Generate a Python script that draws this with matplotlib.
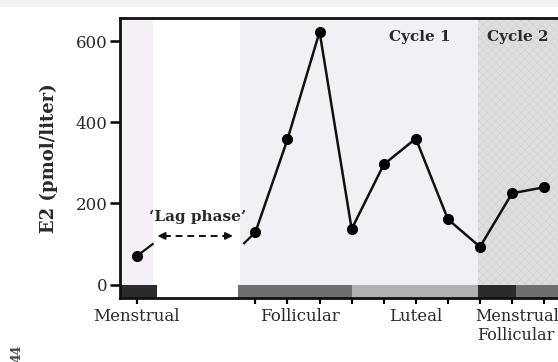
import matplotlib
matplotlib.use("Agg")
import matplotlib.pyplot as plt
import matplotlib.transforms as mtransforms
from matplotlib.patches import Rectangle

plt.rcParams['font.family'] = ['DejaVu Serif']
plt.rcParams['hatch.linewidth'] = 0.5

# Sampling position (days, with the lag gap) and serum E2 values
day = [0, 3.7, 4.7, 5.7, 6.7, 7.7, 8.7, 9.7, 10.7, 11.7, 12.7]
e2 = [70, 129, 358, 623, 137, 296, 360, 161, 93, 225, 240]

# Cycle phase bars along the bottom
phase_start = [-0.52, 3.15, 6.71, 10.64, 11.82]
phase_end = [0.64, 6.71, 10.64, 11.82, 14.5]
phase_color = ['#2b2a2e', '#6f6e73', '#b1b0b4', '#2b2a2e', '#6f6e73']

# Phase labels (x position, text)
phase_label_x = [0.0, 5.09, 8.68]
phase_label_text = ['Menstrual', 'Follicular', 'Luteal']

yticks = [0, 200, 400, 600]
ylim = (-33, 657)
xlim = (-0.52, 14.44)

text_col = '#2a2a2a'

fig = plt.figure(figsize=(5.58, 3.62), dpi=100)
# faint strip along the top edge
fig.patches.append(Rectangle((0, 1 - 7 / 362), 1, 7 / 362, transform=fig.transFigure,
                             facecolor='#f1f1f1', edgecolor='none', zorder=0))

ax = fig.add_axes([120 / 558, 64 / 362, 480 / 558, 280 / 362])
ax.set_xlim(*xlim)
ax.set_ylim(*ylim)

# background bands
ax.axvspan(xlim[0], 0.5, facecolor='#f5f0f6', edgecolor='none', zorder=0)
ax.axvspan(3.22, 10.64, facecolor='#f3f0f5', edgecolor='none', zorder=0)
ax.axvspan(10.64, xlim[1], facecolor='#dedddf', edgecolor='#d2d1d3',
           hatch='xxxx', linewidth=0, zorder=0)

# phase bars below zero
for s, e, c in zip(phase_start, phase_end, phase_color):
    ax.bar(s, 0 - ylim[0], bottom=ylim[0], width=e - s, align='edge',
           color=c, edgecolor='none', zorder=1)

# E2 trace
ax.plot(day[1:], e2[1:], color='#111111', lw=1.8, zorder=3)
ax.plot(day, e2, 'o', color='#000000', ms=7, zorder=4)

# short stubs bridging the lag gap
ax.plot([day[0], day[0] + 0.5], [e2[0], e2[0] + 30], color='#111111', lw=1.6, zorder=3)
ax.plot([day[1], day[1] - 0.35], [e2[1], e2[1] - 27], color='#111111', lw=1.6, zorder=3)

# dashed double arrow for the lag phase
ax.plot([0.85, 2.8], [120, 120], color='#111111', lw=1.4, ls=(0, (3.5, 2.5)), zorder=3)
ax.annotate('', xy=(0.65, 120), xytext=(0.95, 120),
            arrowprops=dict(arrowstyle='-|>,head_length=0.45,head_width=0.22',
                            color='#111111', lw=1.2, shrinkA=0, shrinkB=0))
ax.annotate('', xy=(3.0, 120), xytext=(2.7, 120),
            arrowprops=dict(arrowstyle='-|>,head_length=0.45,head_width=0.22',
                            color='#111111', lw=1.2, shrinkA=0, shrinkB=0))
ax.text(1.9, 166, '\u2018Lag phase\u2019', ha='center', va='center',
        fontsize=11, fontweight='bold', color=text_col, zorder=5)

ax.text(8.82, 610, 'Cycle 1', ha='center', va='center', fontsize=11,
        fontweight='bold', color=text_col)
ax.text(11.87, 610, 'Cycle 2', ha='center', va='center', fontsize=11,
        fontweight='bold', color=text_col)

# axes styling
for side in ('left', 'top', 'bottom'):
    ax.spines[side].set_linewidth(2)
    ax.spines[side].set_color('#111111')
ax.spines['right'].set_visible(False)

ax.set_yticks(yticks)
ax.set_yticklabels([str(v) for v in yticks], fontsize=12, color=text_col)
ax.tick_params(axis='y', direction='out', length=7, width=1.8, pad=2)
ax.set_xticks(day)
ax.set_xticklabels([])
ax.tick_params(axis='x', direction='out', length=4, width=1.6)

ax.set_ylabel('E2 (pmol/liter)', fontsize=13, fontweight='bold', color=text_col,
              labelpad=13)

trans = mtransforms.blended_transform_factory(ax.transData, ax.transAxes)
for x, t in zip(phase_label_x, phase_label_text):
    ax.text(x, -0.065, t, transform=trans, ha='center', va='center',
            fontsize=12, color=text_col)
ax.text(10.55, -0.065, 'Menstrual', transform=trans, ha='left', va='center',
        fontsize=11.5, color=text_col)
ax.text(10.6, -0.133, 'Follicular', transform=trans, ha='left', va='center',
        fontsize=11.5, color=text_col)

# page number in the margin
fig.text(17 / 558, 0, '44', rotation=90, ha='center', va='bottom',
         fontsize=9, fontweight='bold', color='#444444')

fig.savefig('out.png', dpi=100)
